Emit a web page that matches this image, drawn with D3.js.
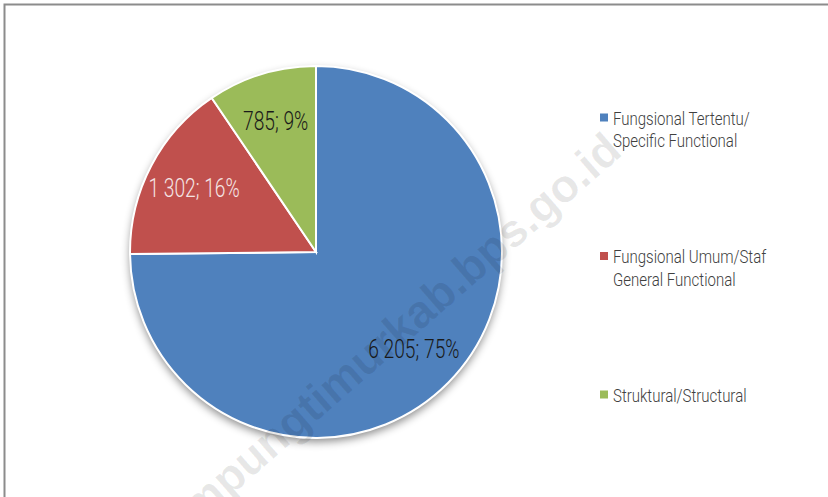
<!DOCTYPE html>
<html lang="en">
<head>
<meta charset="utf-8" />
<title>Pie</title>
<style>
  body { margin: 0; background: #fff; }
  .lbl, .legend text { font-family: Roboto, "DejaVu Sans Condensed", sans-serif; font-weight: 300; }
  .legend text { fill: #404040; font-size: 19px; }
  .lbl { font-size: 26px; }
</style>
</head>
<body>
<div id="chart"></div>
<script src="https://d3js.org/d3.v7.min.js"></script>
<script>
var categories = ["Fungsional Tertentu/\nSpecific Functional", "Fungsional Umum/Staf\nGeneral Functional", "Struktural/Structural"];
var values = [6205, 1302, 785];
var percents = ["75%", "16%", "9%"];
var colors = ["#4F81BD", "#C0504D", "#9BBB59"];
var labelColors = ["#1a1a1a", "#f4e4e4", "#1a1a1a"];

var width = 828, height = 497;
var cx = 316, cy = 252, radius = 186;

var svg = d3.select("#chart").append("svg")
    .attr("width", width)
    .attr("height", height);

var defs = svg.append("defs");
var f = defs.append("filter").attr("id", "shadow")
    .attr("x", "-20%").attr("y", "-20%").attr("width", "140%").attr("height", "140%");
f.append("feDropShadow").attr("dx", 0).attr("dy", 4).attr("stdDeviation", 4)
    .attr("flood-color", "#000").attr("flood-opacity", 0.45);

// outer frame
svg.append("path")
    .attr("d", "M4.5," + height + "V4.5H" + width)
    .attr("fill", "none")
    .attr("stroke", "#8c8c8c")
    .attr("stroke-width", 2);

var pie = d3.pie().sort(null).value(function(d) { return d; });
var arc = d3.arc().innerRadius(0).outerRadius(radius);
var labelArc = d3.arc().innerRadius(radius * 0.74).outerRadius(radius * 0.74);

var g = svg.append("g").attr("transform", "translate(" + cx + "," + cy + ")");

g.append("circle")
    .attr("r", radius)
    .attr("fill", "#fff")
    .attr("filter", "url(#shadow)");

var arcs = pie(values);

g.selectAll("path.slice")
    .data(arcs)
    .enter().append("path")
    .attr("class", "slice")
    .attr("d", arc)
    .attr("fill", function(d, i) { return colors[i]; })
    .attr("stroke", "#fff")
    .attr("stroke-width", 2);

var fmt = function(v) { return d3.format(",")(v).replace(",", " "); };

g.selectAll("text.lbl")
    .data(arcs)
    .enter().append("text")
    .attr("class", "lbl")
    .attr("transform", function(d) {
      var c = labelArc.centroid(d);
      return "translate(" + c[0] + "," + c[1] + ") scale(0.74,1)";
    })
    .attr("text-anchor", "middle")
    .attr("dy", "0.36em")
    .attr("fill", function(d, i) { return labelColors[i]; })
    .text(function(d, i) { return fmt(values[i]) + "; " + percents[i]; });

// legend
var ly = d3.scalePoint().domain(d3.range(categories.length)).range([117.5, 394.5]);
var legend = svg.append("g").attr("class", "legend")
    .selectAll("g")
    .data(categories)
    .enter().append("g")
    .attr("transform", function(d, i) { return "translate(600," + ly(i) + ")"; });

legend.append("rect")
    .attr("x", 0).attr("y", -4)
    .attr("width", 8).attr("height", 8)
    .attr("fill", function(d, i) { return colors[i]; });

legend.append("text")
    .attr("transform", "translate(13,0) scale(0.79,1)")
    .selectAll("tspan")
    .data(function(d) { return d.split("\n"); })
    .enter().append("tspan")
    .attr("x", 0)
    .attr("y", function(d, i) { return 7 + i * 23; })
    .text(function(d) { return d; });

// watermark
svg.append("text")
    .attr("transform", "translate(624,154) rotate(-41)")
    .attr("text-anchor", "end")
    .attr("font-family", "Liberation Sans, Arial, sans-serif")
    .attr("font-weight", "bold")
    .attr("font-size", 46)
    .attr("fill", "#000")
    .attr("fill-opacity", 0.09)
    .text("lampungtimurkab.bps.go.id");
</script>
</body>
</html>
